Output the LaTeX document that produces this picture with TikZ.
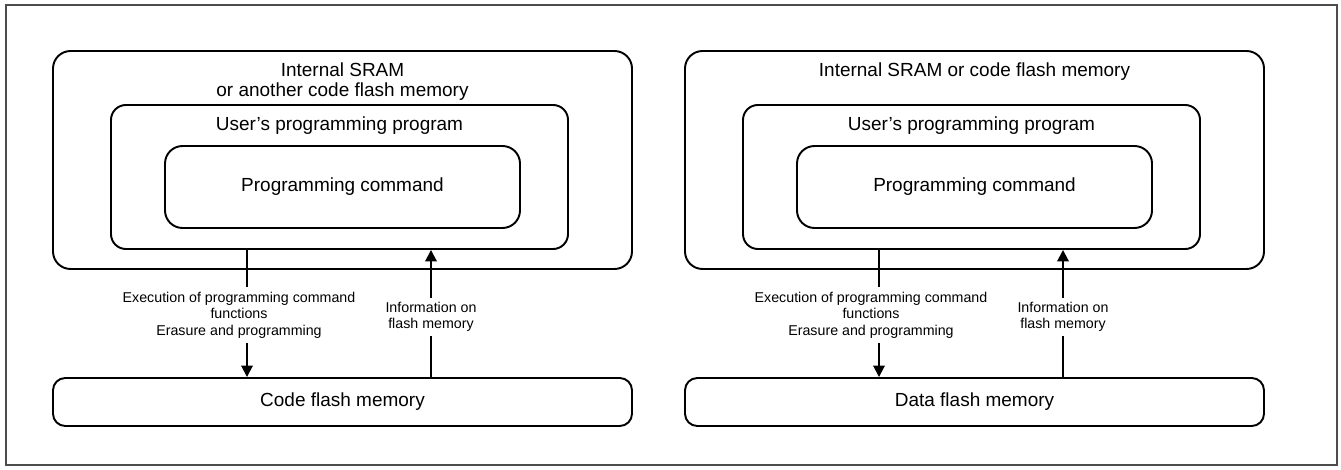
\documentclass[tikz,border=0pt]{standalone}
\usepackage{fontspec}
\setmainfont{Liberation Sans}
\usetikzlibrary{arrows.meta,positioning}

\tikzset{
  box/.style={draw,line width=1.1pt,rounded corners=#1,inner sep=0pt},
  box/.default=8pt,
  main/.style={font=\fontsize{10.8}{11}\selectfont,align=center},
  note/.style={font=\fontsize{8.1}{9.4}\selectfont,align=center,fill=white,inner sep=2.5pt},
  flow/.style={line width=1.1pt,-{Triangle[length=6.5pt,width=6.5pt]}}
}

\begin{document}
\begin{tikzpicture}[x=0.2mm,y=-0.2mm]
\path[use as bounding box] (0,0) rectangle (1341,470);
\draw[black!70,line width=0.7pt] (6,5) rectangle (1337,465);

% two panels, side by side
\foreach \p/\dx/\head/\hy/\mem in {L/0/{Internal SRAM\\or another code flash memory}/81.5/Code,R/632/{Internal SRAM or code flash memory}/72/Data}{
  \node[box=10pt,minimum width=11.58cm,minimum height=4.36cm] (outer\p) at (342.5+\dx,160) {};
  \node[main] (head\p) at (342.5+\dx,\hy) {\head};
  \node[box=8.5pt,minimum width=9.14cm,minimum height=2.88cm] (user\p) at (339.5+\dx,177) {};
  \node[main] (usrtxt\p) at (339.5+\dx,126) {User's programming program};
  \node[box=10pt,main,minimum width=7.1cm,minimum height=1.64cm] (cmd\p) at (342.5+\dx,187) {Programming command};
  \node[box=7pt,main,minimum width=11.58cm,minimum height=0.96cm] (flash\p) at (342.5+\dx,402) {\mem\ flash memory};

  % connectors
  \coordinate (dn\p) at (247+\dx,0);
  \coordinate (up\p) at (431+\dx,0);
  \draw[flow] (user\p.south -| dn\p) -- (flash\p.north -| dn\p);
  \draw[flow] (flash\p.north -| up\p) -- (user\p.south -| up\p);
  \node[note] (exec\p) at (239+\dx,315) {Execution of programming command\\functions\\Erasure and programming};
  \node[note] (info\p) at (431+\dx,317) {Information on\\flash memory};
}
\end{tikzpicture}
\end{document}
